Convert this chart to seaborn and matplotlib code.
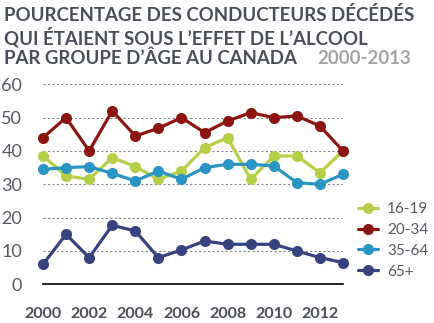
import matplotlib
matplotlib.use("Agg")
import matplotlib.pyplot as plt
import seaborn as sns
import pandas as pd

years = list(range(2000, 2014))
groups = ["16-19", "20-34", "35-64", "65+"]
v_16_19 = [38.5, 32.5, 31.5, 38, 35.3, 31.5, 34, 41, 44, 31.5, 38.5, 38.5, 33.5, 40]
v_20_34 = [44, 50, 40, 52, 44.5, 46.8, 50, 45.5, 49, 51.5, 50, 50.5, 47.5, 40]
v_35_64 = [34.5, 35, 35.3, 33.3, 31, 34, 31.5, 35, 36, 36, 35.5, 30.5, 30, 33]
v_65p = [6, 15, 8, 17.7, 16, 8, 10.3, 13, 12, 12, 12, 10, 8, 6.5]
colors = ["#b5cf48", "#8c1510", "#2a94c2", "#37437f"]
y_ticks = [0, 10, 20, 30, 40, 50, 60]
x_ticks = [2000, 2002, 2004, 2006, 2008, 2010, 2012]

rows = []
for g, vals in zip(groups, [v_16_19, v_20_34, v_35_64, v_65p]):
    for yr, v in zip(years, vals):
        rows.append({"year": yr, "value": v, "group": g})
df = pd.DataFrame(rows)

sns.set_theme(style="white")
plt.rcParams['font.family'] = ['Lato', 'DejaVu Sans']

fig = plt.figure(figsize=(4.35, 3.23), dpi=100)
ax = fig.add_axes([43/435, 1 - 284.3/323, 300/435, 200/323])

palette = dict(zip(groups, colors))
for g in groups:
    sub = df[df.group == g]
    sns.lineplot(data=sub, x="year", y="value", color=palette[g], ax=ax,
                 marker="o", markersize=8, markeredgewidth=0, linewidth=2.3,
                 clip_on=False, zorder=3, label=g, legend=False)

ax.set_xlim(2000, 2013)
ax.set_ylim(0, 60)
ax.set_yticks(y_ticks)
ax.set_xticks(x_ticks)
ax.set_yticklabels([str(t) for t in y_ticks], fontsize=13, color="#555a62")
ax.set_xticklabels([str(t) for t in x_ticks], fontsize=11.5, color="#4a4f57", fontweight="bold")
ax.tick_params(axis="both", length=0)
ax.tick_params(axis="y", pad=15)
ax.tick_params(axis="x", pad=16)
ax.set_xlabel("")
ax.set_ylabel("")
for s in ["top", "right", "left"]:
    ax.spines[s].set_visible(False)
ax.spines["bottom"].set_color("black")
ax.spines["bottom"].set_linewidth(1.2)
for t in y_ticks[1:]:
    ax.axhline(t, color="#888888", linestyle=(0, (2, 2)), linewidth=0.8, zorder=1)

# legend
handles = [plt.Line2D([0], [0], color=c, marker="o", markersize=8, markeredgewidth=0, linewidth=2.3)
           for c in colors]
fig.legend(handles, groups, loc="upper left", bbox_to_anchor=(358/435, 1 - 202/323),
           frameon=False, fontsize=11, labelcolor="#555a62", handlelength=1.3,
           handletextpad=0.6, labelspacing=0.45, borderaxespad=0, borderpad=0)

tc = "#4a4f57"
fs = 13.4
fig.text(4/435, 1 - 15/323, "POURCENTAGE DES CONDUCTEURS DÉCÉDÉS", fontsize=fs,
         fontweight="bold", color=tc, va="center", ha="left")
fig.text(4/435, 1 - 37/323, "QUI ÉTAIENT SOUS L’EFFET DE L’ALCOOL", fontsize=fs,
         fontweight="bold", color=tc, va="center", ha="left")
t3 = fig.text(4/435, 1 - 58/323, "PAR GROUPE D’ÂGE AU CANADA", fontsize=fs,
              fontweight="bold", color=tc, va="center", ha="left")
fig.canvas.draw()
bb = t3.get_window_extent(renderer=fig.canvas.get_renderer())
x_end = bb.x1 / fig.bbox.width
fig.text(x_end + 20/435, 1 - 58/323, "2000-2013", fontsize=fs,
         fontweight="bold", color="#a3a3a3", va="center", ha="left")

fig.savefig("out.png", dpi=100)
